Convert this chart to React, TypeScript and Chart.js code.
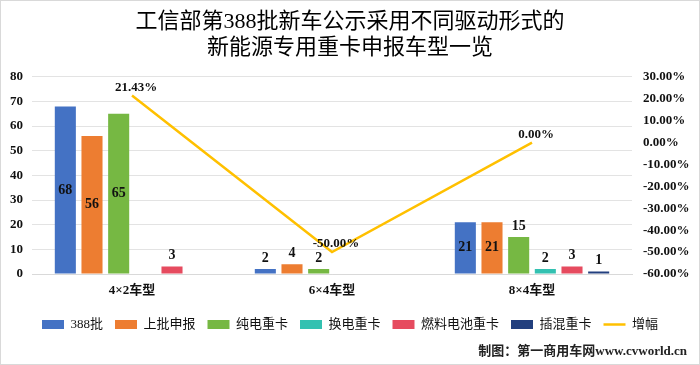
import React, { useEffect, useRef } from "react";
import { Chart, registerables } from "chart.js";

Chart.register(...registerables);

const categories = ["4×2车型", "6×4车型", "8×4车型"];
const seriesNames = ["388批", "上批申报", "纯电重卡", "换电重卡", "燃料电池重卡", "插混重卡"];
const batch388 = [68, 2, 21];
const prevBatch = [56, 4, 21];
const pureElectric = [65, 2, 15];
const batterySwap = [null, null, 2];
const fuelCell = [3, null, 3];
const plugInHybrid = [null, null, 1];
const growthName = "增幅";
const growth = [21.43, -50.0, 0.0];

const titleLines = ["工信部第388批新车公示采用不同驱动形式的", "新能源专用重卡申报车型一览"];
const sourceText = "制图：第一商用车网www.cvworld.cn";

const barColors = ["#4472C4", "#ED7D31", "#76B843", "#33C1B1", "#E64B5F", "#223F7E"];
const lineColor = "#FFC000";
const FONT = "'Liberation Serif', 'Noto Sans CJK SC', serif";

const decoPlugin = {
  id: "deco",
  beforeDraw(chart: any) {
    const ctx = chart.ctx;
    ctx.save();
    ctx.fillStyle = "#ffffff";
    ctx.fillRect(0, 0, chart.width, chart.height);
    ctx.strokeStyle = "#d9d9d9";
    ctx.lineWidth = 1;
    ctx.strokeRect(0.5, 0.5, chart.width - 1, chart.height - 1);
    ctx.restore();
  },
  afterDatasetsDraw(chart: any) {
    const ctx = chart.ctx;
    ctx.save();
    ctx.fillStyle = "#111111";
    ctx.textAlign = "center";
    ctx.textBaseline = "middle";
    chart.data.datasets.forEach((ds: any, di: number) => {
      const meta = chart.getDatasetMeta(di);
      meta.data.forEach((el: any, i: number) => {
        const v = ds.data[i];
        if (v === null || v === undefined) return;
        if (ds.type === "line") {
          ctx.font = `bold 13px ${FONT}`;
          ctx.fillText(v.toFixed(2) + "%", el.x + 4, el.y - 8);
        } else {
          ctx.font = `bold 14px ${FONT}`;
          const h = el.base - el.y;
          if (h > 45) ctx.fillText(String(v), el.x, (el.y + el.base) / 2);
          else ctx.fillText(String(v), el.x, el.y - 11);
        }
      });
    });
    ctx.font = `bold 13px ${FONT}`;
    ctx.textAlign = "right";
    ctx.fillStyle = "#222222";
    ctx.fillText(sourceText, chart.width - 13, chart.height - 13);
    ctx.restore();
  },
};

export default function App() {
  const ref = useRef<HTMLCanvasElement | null>(null);
  useEffect(() => {
    if (!ref.current) return;
    const barData = [batch388, prevBatch, pureElectric, batterySwap, fuelCell, plugInHybrid];
    const datasets: any[] = barData.map((d, i) => ({
      type: "bar",
      label: seriesNames[i],
      data: d,
      backgroundColor: barColors[i],
      borderWidth: 0,
      yAxisID: "y",
      categoryPercentage: 0.8,
      barPercentage: 0.79,
    }));
    datasets.push({
      type: "line",
      label: growthName,
      data: growth,
      borderColor: lineColor,
      backgroundColor: lineColor,
      borderWidth: 2.5,
      pointRadius: 0,
      pointHoverRadius: 0,
      tension: 0,
      yAxisID: "y1",
    });
    const chart = new Chart(ref.current, {
      type: "bar",
      data: { labels: categories, datasets },
      options: {
        responsive: false,
        animation: false,
        devicePixelRatio: 1,
        layout: { padding: { left: 0, right: 0, top: 0, bottom: 24 } },
        plugins: {
          title: {
            display: true,
            text: titleLines,
            color: "#000000",
            font: { family: FONT, size: 22, weight: "normal", lineHeight: 1.2 },
            padding: { top: 9, bottom: 15 },
          },
          legend: {
            position: "bottom",
            labels: {
              usePointStyle: true,
              pointStyleWidth: 22,
              boxHeight: 9,
              padding: 12,
              color: "#111111",
              font: { family: FONT, size: 13 },
              generateLabels: (c: any) => {
                const items = Chart.defaults.plugins.legend.labels.generateLabels(c);
                return items.map((it: any) => {
                  const isLine = it.datasetIndex === 6;
                  return {
                    ...it,
                    pointStyle: isLine ? "line" : "rect",
                    lineWidth: isLine ? 2.5 : 0,
                    strokeStyle: isLine ? lineColor : it.fillStyle,
                  };
                });
              },
            },
          },
          tooltip: { enabled: false },
        },
        scales: {
          x: {
            grid: { display: false, drawTicks: false },
            border: { display: true, color: "#d9d9d9" },
            ticks: { padding: 9, color: "#111111", font: { family: FONT, size: 13, weight: "bold" } },
            afterFit: (s: any) => { s.height = 32; },
          },
          y: {
            position: "left",
            min: 0,
            max: 80,
            grid: { color: "#e3e3e3", drawTicks: false },
            border: { display: false },
            ticks: { stepSize: 10, padding: 9, color: "#111111", font: { family: FONT, size: 13, weight: "bold" } },
            afterFit: (s: any) => { s.width = 32; },
          },
          y1: {
            position: "right",
            min: -60,
            max: 30,
            grid: { display: false, drawTicks: false },
            border: { display: false },
            ticks: {
              stepSize: 10,
              padding: 11,
              color: "#111111",
              font: { family: FONT, size: 13, weight: "bold" },
              callback: (v: any) => Number(v).toFixed(2) + "%",
            },
            afterFit: (s: any) => { s.width = 68; },
          },
        },
      },
      plugins: [decoPlugin],
    } as any);
    return () => chart.destroy();
  }, []);
  return (
    <div style={{ position: "fixed", left: 0, top: 0, width: 700, height: 365 }}>
      <canvas ref={ref} width={700} height={365} />
    </div>
  );
}
